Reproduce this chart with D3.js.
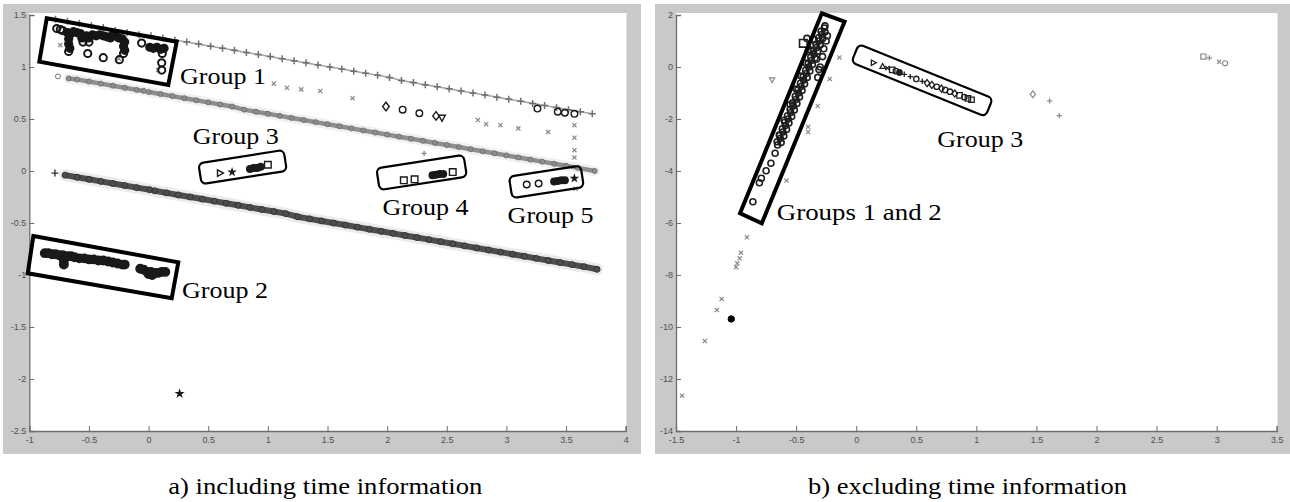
<!DOCTYPE html>
<html><head><meta charset="utf-8">
<script src="https://cdn.jsdelivr.net/npm/d3@7"></script>
<style>body{margin:0;background:#fff;}svg{display:block;}</style>
</head><body>
<svg id="c" width="1290" height="502"></svg>
<script>
// ---------- tick values ----------
const leftXTicks = [-1,-0.5,0,0.5,1,1.5,2,2.5,3,3.5,4];
const leftYTicks = [-2.5,-2,-1.5,-1,-0.5,0,0.5,1,1.5];
const rightXTicks = [-1.5,-1,-0.5,0,0.5,1,1.5,2,2.5,3,3.5];
const rightYTicks = [-14,-12,-10,-8,-6,-4,-2,0,2];

// ---------- panel a) including time information ----------
const line1Plus = [[-0.78,1.46],[-0.68,1.44],[-0.58,1.42],[-0.48,1.40],[-0.38,1.38],[-0.28,1.35],[-0.18,1.33],[-0.08,1.31],[0.02,1.30],[0.12,1.28],[0.22,1.26],[0.32,1.24],[0.42,1.22],[0.52,1.20],[0.62,1.18],[0.72,1.16],[0.82,1.14],[0.92,1.12],[1.02,1.10],[1.12,1.08],[1.22,1.06],[1.32,1.04],[1.42,1.02],[1.52,1.00],[1.62,0.98],[1.72,0.96],[1.82,0.94],[1.92,0.92],[2.02,0.90],[2.12,0.87],[2.22,0.85],[2.32,0.83],[2.42,0.81],[2.52,0.79],[2.62,0.77],[2.72,0.75],[2.82,0.73],[2.92,0.71],[3.02,0.69],[3.12,0.67],[3.22,0.65],[3.32,0.63],[3.42,0.61],[3.52,0.59],[3.62,0.57],[3.72,0.55]];
const line2Lone = [[-0.76,0.91]];
const line2SegA = [[-0.67,0.89],[-0.6,0.88],[-0.5,0.86],[-0.4,0.84],[-0.3,0.82],[-0.2,0.80],[-0.1,0.78],[-0.04,0.77]];
const line2SegB = [[0.0,0.76],[0.1,0.74],[0.2,0.72],[0.3,0.70],[0.4,0.68],[0.5,0.66],[0.6,0.64],[0.7,0.62],[0.8,0.59],[0.9,0.57],[1.0,0.55],[1.1,0.53],[1.2,0.51],[1.3,0.49],[1.4,0.47],[1.5,0.45],[1.6,0.43],[1.7,0.41],[1.8,0.39],[1.9,0.37],[2.0,0.35],[2.1,0.33],[2.2,0.31],[2.3,0.29],[2.4,0.27],[2.5,0.25],[2.6,0.23],[2.7,0.21],[2.8,0.19],[2.9,0.17],[3.0,0.15],[3.1,0.13],[3.2,0.11],[3.3,0.09],[3.4,0.07],[3.5,0.05],[3.6,0.03],[3.74,0.0]];
const line3Lone = [[-0.785,-0.02]];
const line3SegA = [[-0.70,-0.04],[-0.6,-0.06],[-0.5,-0.08],[-0.4,-0.10],[-0.3,-0.12],[-0.2,-0.14],[-0.1,-0.16],[0.01,-0.18]];
const line3SegB = [[0.05,-0.19],[0.15,-0.21],[0.25,-0.23],[0.35,-0.25],[0.45,-0.27],[0.55,-0.29],[0.65,-0.31],[0.75,-0.33],[0.85,-0.35],[0.95,-0.37],[1.05,-0.39],[1.15,-0.41],[1.25,-0.44],[1.35,-0.46],[1.45,-0.48],[1.55,-0.50],[1.65,-0.52],[1.75,-0.54],[1.85,-0.56],[1.95,-0.58],[2.05,-0.60],[2.15,-0.62],[2.25,-0.64],[2.35,-0.66],[2.45,-0.68],[2.55,-0.70],[2.65,-0.72],[2.75,-0.74],[2.85,-0.76],[2.95,-0.78],[3.05,-0.80],[3.15,-0.82],[3.25,-0.84],[3.35,-0.86],[3.45,-0.88],[3.55,-0.90],[3.65,-0.92],[3.76,-0.945]];
const leftGrayPoints = [[1.05,0.84],[1.16,0.80],[1.28,0.785],[1.44,0.77],[1.71,0.70],[2.76,0.49],[2.83,0.45],[2.95,0.44],[3.10,0.41],[3.35,0.375],[3.57,0.44],[3.57,0.32],[3.57,0.20],[3.57,0.13],[3.58,-0.17],[-0.74,1.21],[-0.25,1.08],[0.08,0.97],[2.31,0.17]];
const leftGrayMarkers = ["x","x","x","x","x","x","x","x","x","x","x","x","x","x","x","x","x","x","+"];
const group1Points = [[-0.77,1.37],[-0.74,1.36],[-0.72,1.35],[-0.68,1.33],[-0.66,1.31],[-0.67,1.27],[-0.67,1.22],[-0.66,1.18],[-0.67,1.15],[-0.63,1.34],[-0.6,1.33],[-0.57,1.32],[-0.56,1.28],[-0.55,1.24],[-0.52,1.3],[-0.5,1.28],[-0.5,1.24],[-0.47,1.31],[-0.44,1.30],[-0.41,1.31],[-0.38,1.3],[-0.35,1.29],[-0.32,1.28],[-0.3,1.31],[-0.28,1.30],[-0.25,1.28],[-0.22,1.27],[-0.2,1.24],[-0.21,1.2],[-0.2,1.16],[-0.21,1.13],[-0.51,1.13],[-0.38,1.09],[-0.245,1.07],[-0.058,1.23],[0.01,1.19],[0.04,1.18],[0.07,1.19],[0.1,1.17],[0.13,1.18],[0.115,1.13],[0.11,1.04],[0.11,0.97]];
const group1Markers = ["o","o","o","f","f","f","f","f","o","f","f","f","f","o","f","f","o","f","f","f","f","f","f","f","f","f","f","f","f","f","o","o","o","o","o","f","f","f","f","f","o","o","o"];
const group2Points = [[-0.87,-0.79],[-0.84,-0.79],[-0.81,-0.80],[-0.78,-0.80],[-0.75,-0.81],[-0.72,-0.81],[-0.71,-0.86],[-0.71,-0.90],[-0.68,-0.82],[-0.65,-0.82],[-0.62,-0.83],[-0.58,-0.84],[-0.54,-0.84],[-0.50,-0.85],[-0.46,-0.85],[-0.42,-0.86],[-0.38,-0.86],[-0.34,-0.87],[-0.30,-0.88],[-0.26,-0.89],[-0.22,-0.90],[-0.20,-0.90],[-0.07,-0.94],[-0.04,-0.95],[-0.01,-0.97],[0.02,-0.97],[0.05,-0.98],[0.08,-0.98],[0.11,-0.97],[0.14,-0.97],[0.0,-0.99],[0.03,-1.0]];
const leftDarkPoints = [[0.60,-0.02],[0.70,-0.01],[0.85,0.02],[0.88,0.03],[0.91,0.03],[0.94,0.04],[1.0,0.06],
  [2.14,-0.09],[2.23,-0.08],[2.38,-0.04],[2.41,-0.035],[2.44,-0.03],[2.47,-0.03],[2.55,-0.01],
  [3.17,-0.13],[3.27,-0.12],[3.40,-0.10],[3.43,-0.095],[3.46,-0.09],[3.49,-0.09],[3.57,-0.07],
  [1.99,0.62],[2.13,0.59],[2.27,0.555],[2.41,0.53],[2.46,0.51],
  [3.26,0.60],[3.43,0.57],[3.49,0.56],[3.57,0.55],[0.26,-2.14]];
const leftDarkMarkers = [">","h","f","f","f","f","s","s","s","F","F","F","F","s","o","o","f","f","f","f","h","d","o","o","d","v","o","o","o","o","p"];

// ---------- panel b) excluding time information ----------
const bandSparse = [[-0.86,-5.18],[-0.806,-4.45],[-0.79,-4.28],[-0.75,-3.99],[-0.71,-3.70],[-0.675,-3.32]];
const bandDense = [[-0.654,-3.0],[-0.632,-2.75],[-0.61,-2.5],[-0.589,-2.25],[-0.567,-2.0],[-0.545,-1.75],[-0.524,-1.5],[-0.502,-1.25],[-0.481,-1.0],[-0.459,-0.75],[-0.438,-0.5],[-0.416,-0.25],[-0.395,0.0],[-0.373,0.25],[-0.352,0.5],[-0.33,0.75],[-0.309,1.0],[-0.287,1.25],[-0.266,1.5],
  [-0.625,-2.9],[-0.603,-2.65],[-0.58,-2.4],[-0.56,-2.15],[-0.537,-1.9],[-0.515,-1.65],[-0.494,-1.4],[-0.472,-1.15],[-0.451,-0.9],[-0.43,-0.65],[-0.408,-0.4],[-0.386,-0.15],[-0.365,0.1],[-0.343,0.35],[-0.322,0.6],[-0.3,0.85],[-0.279,1.1],[-0.26,1.35],
  [-0.658,-2.875],[-0.637,-2.625],[-0.615,-2.375],[-0.594,-2.125],[-0.572,-1.875],[-0.55,-1.625],[-0.529,-1.375],[-0.507,-1.125],[-0.485,-0.875],[-0.464,-0.625],[-0.442,-0.375],[-0.421,-0.125],[-0.40,0.125],[-0.378,0.375],[-0.356,0.625],[-0.335,0.875],[-0.313,1.125],[-0.292,1.375],
  [-0.64,-2.62],[-0.6,-2.05],[-0.55,-1.45],[-0.5,-0.85],[-0.46,-0.35],[-0.42,0.15],[-0.38,0.65],[-0.35,1.05],[-0.41,1.1],[-0.40,0.6],[-0.33,0.3],[-0.31,-0.1],[-0.26,1.58],
  [-0.28,0.4],[-0.27,0.7],[-0.25,1.0],[-0.24,1.2],[-0.3,0.0],[-0.32,-0.4]];
const rightSquare = [[-0.44,0.91]];
const rightGrayPoints = [[-0.14,0.37],[-0.22,-0.46],[-0.32,-1.5],[-0.40,-2.3],[-0.40,-2.5],[-0.58,-4.37],[-0.91,-6.55],[-0.96,-7.14],[-0.97,-7.36],[-0.99,-7.55],[-1.0,-7.7],[-1.12,-8.92],[-1.16,-9.35],[-1.26,-10.54],[-1.45,-12.64],
  [-0.7,-0.5],[1.47,-1.05],[1.61,-1.3],[1.69,-1.87],[2.89,0.40],[2.94,0.35],[3.02,0.2],[3.07,0.14]];
const rightGrayMarkers = ["x","x","x","x","x","x","x","x","x","x","x","x","x","x","x","v","d","+","+","s","+","x","o"];
const rightBlack = [[-1.04,-9.69]];
const group3RightPoints = [[0.144,0.165],[0.22,0.03],[0.26,-0.04],[0.30,-0.11],[0.33,-0.16],[0.36,-0.21],[0.40,-0.28],[0.45,-0.37],[0.50,-0.46],[0.55,-0.55],[0.59,-0.62],[0.63,-0.69],[0.67,-0.76],[0.71,-0.83],[0.74,-0.88],[0.78,-0.95],[0.82,-1.02],[0.86,-1.09],[0.90,-1.16],[0.93,-1.21],[0.96,-1.26]];
const group3RightMarkers = [">","^","x","s","o","f","+","+","o","+","d","d","o","d","o","o","d","s","o","s","s"];

// ---------- annotations (data units) ----------
const leftThickBoxes = [[[-0.854,1.468],[0.236,1.243],[0.165,0.827],[-0.916,1.051]],[[-0.966,-0.625],[0.249,-0.878],[0.194,-1.224],[-1.013,-0.984]]];
const leftRoundBoxes = [[[0.419,0.074],[1.129,0.202],[1.158,0.026],[0.447,-0.151]],[[1.912,0.026],[2.638,0.154],[2.666,-0.022],[1.940,-0.214]],[[3.021,-0.055],[3.616,0.051],[3.652,-0.135],[3.052,-0.279]]];
const rightThickBoxes = [[[-0.967,-5.627],[-0.286,2.065],[-0.097,1.742],[-0.786,-6.012]]];
const rightRoundBoxes = [[[0.019,0.885],[1.136,-1.204],[1.075,-1.935],[-0.036,0.204]]];
const leftLabels = ["Group 1","Group 2","Group 3","Group 4","Group 5"];
const leftLabelAt = [[0.264,0.837],[0.280,-1.224],[0.370,0.260],[1.962,-0.423],[3.010,-0.497]];
const rightLabels = ["Groups 1 and 2","Group 3"];
const rightLabelAt = [[-0.661,-5.885],[0.675,-3.065]];
const captions = ["a) including time information","b) excluding time information"];

// ---------- drawing ----------
const svg = d3.select("#c");
const GRAY = "#c9c9c9";
const SERIF = "'Liberation Serif','Times New Roman',Times,serif";

function markerPath(t, s){
  switch(t){
    case "o": case "f": case "F": return `M${-s},0A${s},${s} 0 1,0 ${s},0A${s},${s} 0 1,0 ${-s},0Z`;
    case "s": return `M${-s},${-s}H${s}V${s}H${-s}Z`;
    case "d": return `M0,${-s*1.3}L${s},0L0,${s*1.3}L${-s},0Z`;
    case "+": return `M${-s},0H${s}M0,${-s}V${s}`;
    case "x": return `M${-s*0.8},${-s*0.8}L${s*0.8},${s*0.8}M${s*0.8},${-s*0.8}L${-s*0.8},${s*0.8}`;
    case ">": return `M${-s*0.8},${-s}L${s},0L${-s*0.8},${s}Z`;
    case "v": return `M${-s},${-s*0.8}L${s},${-s*0.8}L0,${s}Z`;
    case "^": return `M${-s},${s*0.8}L${s},${s*0.8}L0,${-s}Z`;
    case "h": return d3.symbol(d3.symbolStar, 9)();
    case "p": return d3.symbol(d3.symbolStar, 11)();
  }
  return "";
}

function panel(cfg){
  const g = svg.append("g");
  g.append("rect").attr("x",cfg.frame[0]).attr("y",cfg.frame[1]).attr("width",cfg.frame[2]).attr("height",cfg.frame[3]).attr("fill",GRAY);
  const x = d3.scaleLinear().domain(cfg.xd).range(cfg.xr);
  const y = d3.scaleLinear().domain(cfg.yd).range(cfg.yr);
  g.append("rect").attr("x",cfg.xr[0]).attr("y",13).attr("width",cfg.whiteR-cfg.xr[0]).attr("height",cfg.yr[0]-13).attr("fill","#fff");
  const xa = g.append("g").attr("transform",`translate(0,${cfg.yr[0]})`)
    .call(d3.axisBottom(x).tickValues(cfg.xt).tickSize(-5).tickPadding(4).tickFormat(d=>String(d)));
  const ya = g.append("g").attr("transform",`translate(${cfg.xr[0]},0)`)
    .call(d3.axisLeft(y).tickValues(cfg.yt).tickSize(-5).tickPadding(3).tickFormat(d=>String(d)));
  [xa,ya].forEach(a=>{
    a.select(".domain").attr("stroke","#6d6d6d").attr("stroke-width",1.3);
    a.selectAll(".tick line").attr("stroke","#6d6d6d").attr("stroke-width",1);
    a.selectAll("text").attr("fill","#505050").style("font-family","'Liberation Sans',Arial,sans-serif").style("font-size","9px");
  });
  xa.selectAll("text").attr("dy","0.9em");
  return {g,x,y};
}

function drawPts(g,x,y,data,types,opt){
  g.append("g").selectAll("path").data(data).join("path")
    .attr("transform",d=>`translate(${x(d[0])},${y(d[1])})`)
    .attr("d",(d,i)=>markerPath(types?types[i]:opt.type,opt.size))
    .attr("fill",(d,i)=>{const t=types?types[i]:opt.type; return (t==="f"||t==="F"||t==="h"||t==="p")?opt.stroke:"none";})
    .attr("stroke",opt.stroke).attr("stroke-width",opt.sw).attr("opacity",opt.op||1);
}

function band(g,x,y,data,color,w,op){
  g.append("path").datum(data).attr("d",d3.line().x(d=>x(d[0])).y(d=>y(d[1])))
    .attr("fill","none").attr("stroke",color).attr("stroke-width",w).attr("stroke-linecap","round").attr("opacity",op||1);
}

function thickBox(g,x,y,corners){
  g.append("path").datum(corners)
    .attr("d",d=>"M"+d.map(p=>x(p[0])+","+y(p[1])).join("L")+"Z")
    .attr("fill","none").attr("stroke","#000").attr("stroke-width",4).attr("stroke-linejoin","miter");
}
function roundBox(g,x,y,corners){
  const p = corners.map(c=>[x(c[0]),y(c[1])]);
  const cx = d3.mean(p,d=>d[0]), cy = d3.mean(p,d=>d[1]);
  const w = (Math.hypot(p[1][0]-p[0][0],p[1][1]-p[0][1])+Math.hypot(p[2][0]-p[3][0],p[2][1]-p[3][1]))/2;
  const h = (Math.hypot(p[3][0]-p[0][0],p[3][1]-p[0][1])+Math.hypot(p[2][0]-p[1][0],p[2][1]-p[1][1]))/2;
  const a = Math.atan2(p[1][1]-p[0][1],p[1][0]-p[0][0])*180/Math.PI;
  g.append("rect").attr("x",-w/2).attr("y",-h/2).attr("width",w).attr("height",h).attr("rx",5)
    .attr("transform",`translate(${cx},${cy}) rotate(${a})`)
    .attr("fill","none").attr("stroke","#000").attr("stroke-width",2.2);
}
function labels(g,x,y,texts,at){
  g.append("g").selectAll("text").data(texts).join("text")
    .attr("x",(d,i)=>x(at[i][0])).attr("y",(d,i)=>y(at[i][1]))
    .attr("textLength",d=>d.length>8?165:86).attr("lengthAdjust","spacingAndGlyphs")
    .style("font-family",SERIF).style("font-size","24px").attr("fill","#000")
    .text(d=>d);
}

// Left panel
const L = panel({frame:[3,4,638,450], xd:[-1,4], xr:[29.3,625.7], yd:[-2.5,1.5], yr:[431,15], whiteR:626.5, xt:leftXTicks, yt:leftYTicks});
band(L.g,L.x,L.y,line1Plus,"#a8a8a8",1.6);
drawPts(L.g,L.x,L.y,line1Plus,null,{type:"+",size:3.5,stroke:"#6f6f6f",sw:1.5});
band(L.g,L.x,L.y,line2SegA,"#f0f0f0",10);
band(L.g,L.x,L.y,line2SegB,"#f0f0f0",10);
band(L.g,L.x,L.y,line3SegA,"#ebebeb",12);
band(L.g,L.x,L.y,line3SegB,"#ebebeb",12);
band(L.g,L.x,L.y,line2SegA,"#8e8e8e",4.5);
band(L.g,L.x,L.y,line2SegB,"#8e8e8e",4.5);
drawPts(L.g,L.x,L.y,line2Lone.concat(line2SegA,line2SegB),null,{type:"o",size:2.5,stroke:"#6e6e6e",sw:1});
band(L.g,L.x,L.y,line3SegA,"#4e4e4e",6);
band(L.g,L.x,L.y,line3SegB,"#4e4e4e",6);
drawPts(L.g,L.x,L.y,line3SegA.concat(line3SegB),null,{type:"o",size:3,stroke:"#333",sw:1});
drawPts(L.g,L.x,L.y,line3Lone,null,{type:"+",size:3.5,stroke:"#333",sw:1.4});
drawPts(L.g,L.x,L.y,leftGrayPoints,leftGrayMarkers,{size:2.6,stroke:"#8c8c8c",sw:1.3});
drawPts(L.g,L.x,L.y,group1Points,group1Markers,{size:3.6,stroke:"#161616",sw:2});
drawPts(L.g,L.x,L.y,group2Points,null,{type:"f",size:4.2,stroke:"#1a1a1a",sw:1.5});
drawPts(L.g,L.x,L.y,leftDarkPoints,leftDarkMarkers,{size:3.3,stroke:"#1a1a1a",sw:1.4});
leftThickBoxes.forEach(c=>thickBox(L.g,L.x,L.y,c));
leftRoundBoxes.forEach(c=>roundBox(L.g,L.x,L.y,c));
labels(L.g,L.x,L.y,leftLabels,leftLabelAt);

// Right panel
const R = panel({frame:[655,4,635,450], xd:[-1.5,3.5], xr:[676,1276.7], yd:[-14,2], yr:[431,15], whiteR:1277.5, xt:rightXTicks, yt:rightYTicks});
drawPts(R.g,R.x,R.y,rightGrayPoints,rightGrayMarkers,{size:2.6,stroke:"#8a8a8a",sw:1.2});
drawPts(R.g,R.x,R.y,bandSparse.concat(bandDense),null,{type:"o",size:3,stroke:"#1e1e1e",sw:1.6});
drawPts(R.g,R.x,R.y,rightSquare,null,{type:"s",size:3.8,stroke:"#1e1e1e",sw:1.6});
drawPts(R.g,R.x,R.y,rightBlack,null,{type:"f",size:3.2,stroke:"#000",sw:1});
drawPts(R.g,R.x,R.y,group3RightPoints,group3RightMarkers,{size:2.7,stroke:"#1e1e1e",sw:1.3});
rightThickBoxes.forEach(c=>thickBox(R.g,R.x,R.y,c));
rightRoundBoxes.forEach(c=>roundBox(R.g,R.x,R.y,c));
labels(R.g,R.x,R.y,rightLabels,rightLabelAt);

// Captions
svg.selectAll("text.cap").data(captions).join("text").attr("class","cap")
  .attr("x",(d,i)=>i===0?L.x(-1)+139:R.x(-1.5)+132).attr("y",494)
  .attr("textLength",(d,i)=>i===0?314:319).attr("lengthAdjust","spacingAndGlyphs")
  .style("font-family",SERIF).style("font-size","23px").attr("fill","#000")
  .text(d=>d);
</script>
</body></html>
